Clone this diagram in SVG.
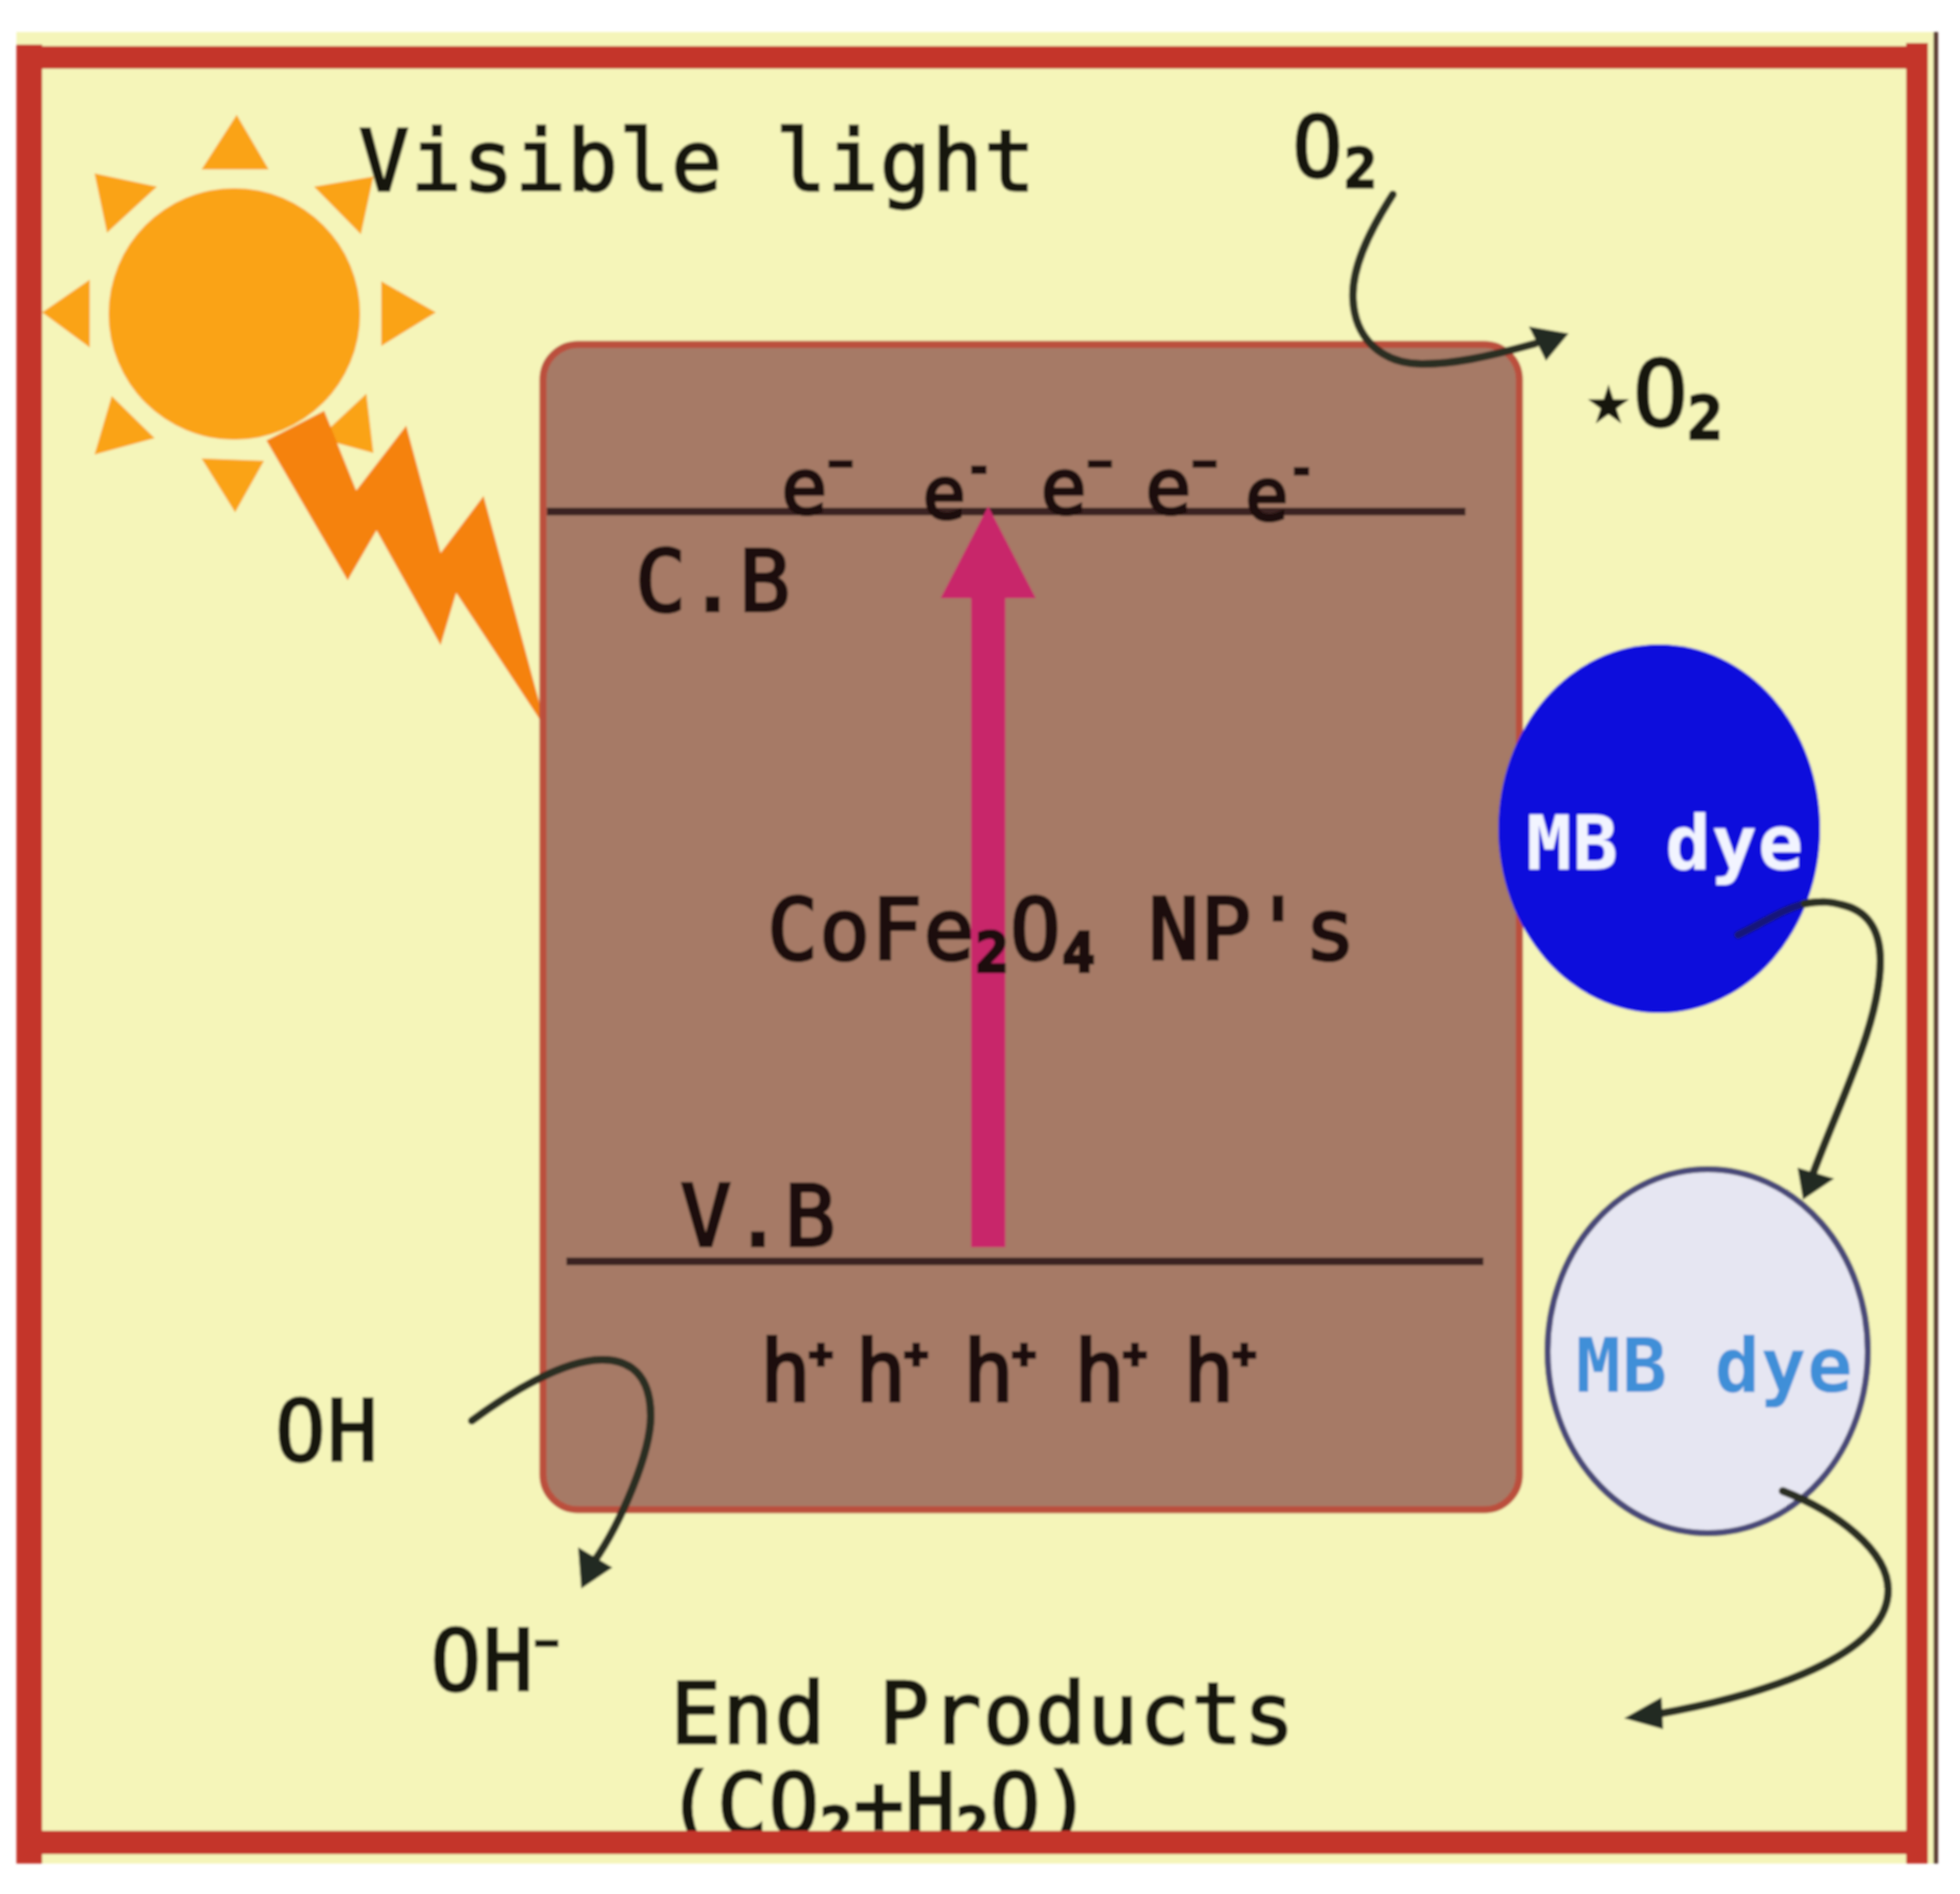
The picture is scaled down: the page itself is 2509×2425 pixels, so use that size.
<svg xmlns="http://www.w3.org/2000/svg" width="2509" height="2425" viewBox="0 0 2509 2425">
<defs><filter id="soft" x="0" y="0" width="100%" height="100%" filterUnits="userSpaceOnUse"><feGaussianBlur stdDeviation="1.4"/></filter></defs>
<style>
text{font-family:"DejaVu Sans Mono","Liberation Mono",monospace;fill:#15140a;stroke:#15140a;stroke-width:3;font-size:108px;letter-spacing:1.7px}
.dark{fill:#1e0f0a;stroke:#1e0f0a;stroke-width:4}
.sub{font-size:70px;font-weight:bold}
.sup{font-size:50px;font-weight:bold}
.mb{font-weight:bold;font-size:96px;stroke:none;letter-spacing:1.5px}
.ray{fill:#faa316}
.band{stroke:#3b2320;stroke-width:10;fill:none}
.conn{fill:none;stroke:#2b2d22;stroke-width:10;stroke-linecap:round}
.head{fill:#232a20}
.frame{fill:#c4352b}
</style>
<g filter="url(#soft)">
<rect id="background" x="21" y="41" width="2454" height="2345" fill="#f5f5b9"/>
<rect x="2475" y="41" width="6" height="2345" fill="#5a3a30"/>
<g id="end-products">
<text x="858" y="2232">End Products</text>
<text x="852" y="2348" style="letter-spacing:0.8px">(CO<tspan class="sub" dy="16">2</tspan><tspan dy="-16">+H</tspan><tspan class="sub" dy="16">2</tspan><tspan dy="-16">O)</tspan></text>
</g>
<g id="frame">
<rect class="frame" x="21" y="59" width="2447" height="29"/>
<rect class="frame" x="21" y="2344" width="2447" height="30"/>
<rect class="frame" x="21" y="57" width="33" height="2329"/>
<rect class="frame" x="2440" y="55" width="28" height="2331"/>
</g>
<g id="sun">
<circle cx="300" cy="402" r="161" class="ray"/>
<polygon class="ray" points="303,147 258,217 344,217"/>
<polygon class="ray" points="478,226 402,239 462,300"/>
<polygon class="ray" points="488,360 558,400 488,443"/>
<polygon class="ray" points="469,504 478,580 408,561"/>
<polygon class="ray" points="258,587 338,590 301,656"/>
<polygon class="ray" points="143,507 198,561 121,582"/>
<polygon class="ray" points="115,358 54,400 115,445"/>
<polygon class="ray" points="121,222 201,239 137,298"/>
</g>
<g id="lightning">
<polygon fill="#f5820f" points="341,564 415,526 456,628 520,545 564,708 619,635 700,935 584,759 564,826 482,679 445,743"/>
</g>
<text id="visible-light" x="459" y="244">Visible light</text>
<g id="nanoparticle">
<rect x="695" y="441" width="1250" height="1492" rx="45" fill="#a67a66" stroke="#bb4f3c" stroke-width="9"/>
<line class="band" x1="700" y1="655" x2="1876" y2="655"/>
<line class="band" x1="725" y1="1615" x2="1899" y2="1615"/>
<polygon id="excitation-arrow" fill="#c8286a" points="1248,1597 1292,1597 1292,766 1331,766 1270,648 1209,766 1248,766" transform="translate(-5,0)"/>
<text class="dark" x="813" y="782">C.B</text>
<text class="dark" x="871" y="1595">V.B</text>
<text class="dark" x="982" y="1228">CoFe<tspan class="sub" dy="16">2</tspan><tspan dy="-16">O</tspan><tspan class="sub" dy="16">4</tspan><tspan dy="-16"> NP's</tspan></text>
</g>
<g id="electrons">
<text class="dark" x="1000" y="658" style="font-size:98px">e<tspan class="sup" dy="-48">−</tspan></text>
<text class="dark" x="1181" y="664" style="font-size:92px">e<tspan class="sup" dy="-48">-</tspan></text>
<text class="dark" x="1332" y="658" style="font-size:98px">e<tspan class="sup" dy="-48">−</tspan></text>
<text class="dark" x="1466" y="658" style="font-size:98px">e<tspan class="sup" dy="-48">−</tspan></text>
<text class="dark" x="1594" y="666" style="font-size:92px">e<tspan class="sup" dy="-48">-</tspan></text>
</g>
<g id="holes">
<text class="dark" x="973" y="1794">h<tspan class="sup" dy="-44" dx="-4">+</tspan></text>
<text class="dark" x="1095" y="1794">h<tspan class="sup" dy="-44" dx="-4">+</tspan></text>
<text class="dark" x="1233" y="1794">h<tspan class="sup" dy="-44" dx="-4">+</tspan></text>
<text class="dark" x="1375" y="1794">h<tspan class="sup" dy="-44" dx="-4">+</tspan></text>
<text class="dark" x="1515" y="1794">h<tspan class="sup" dy="-44" dx="-4">+</tspan></text>
</g>
<g id="oxygen">
<text x="1654" y="226">O<tspan class="sub" dy="14">2</tspan></text>
<text x="2035" y="545"><tspan style="font-size:80px;font-weight:bold" dy="-6">★</tspan><tspan x="2090" y="545" style="font-size:118px">O</tspan><tspan class="sub" x="2160" y="562" style="font-size:76px">2</tspan></text>
</g>
<g id="hydroxyl">
<text x="352" y="1870">OH</text>
<text x="551" y="2164">OH<tspan class="sup" dy="-44">−</tspan></text>
</g>
<g id="mb-dye">
<ellipse cx="2124" cy="1061" rx="206" ry="236" fill="#0c0cdc"/>
<text class="mb" x="1954" y="1113" style="fill:#f2f4ff">MB dye</text>
</g>
<g id="mb-dye-degraded">
<ellipse cx="2186" cy="1730" rx="205" ry="233" fill="#e6e6f2" stroke="#4a4a78" stroke-width="8"/>
<text class="mb" x="2017" y="1782" style="fill:#3f8fd8">MB dye</text>
</g>
<g id="connectors">
<path class="conn" d="M1783,249 C1750,300 1730,345 1732,383 C1734,430 1765,465 1820,466 C1860,466 1900,458 1965,440"/>
<polygon class="head" points="2008,427 1957,418 1979,462"/>
<path class="conn" d="M604,1819 C650,1785 720,1741 771,1741 C815,1741 833,1770 833,1813 C833,1860 795,1950 760,2000"/>
<polygon class="head" points="744,2034 740,1981 784,2007"/>
<path class="conn" style="stroke:#15157a" d="M2225,1197 C2260,1180 2280,1165 2310,1157"/>
<path class="conn" d="M2310,1157 C2335,1153 2345,1155 2356,1158 C2390,1165 2407,1190 2407,1230 C2407,1310 2355,1410 2320,1505"/>
<polygon class="head" points="2308,1536 2301,1495 2348,1509"/>
<path class="conn" d="M2282,1909 C2350,1935 2417,1985 2417,2036 C2417,2110 2290,2165 2120,2195"/>
<polygon class="head" points="2079,2200 2127,2173 2129,2214"/>
</g>
</g>
</svg>
